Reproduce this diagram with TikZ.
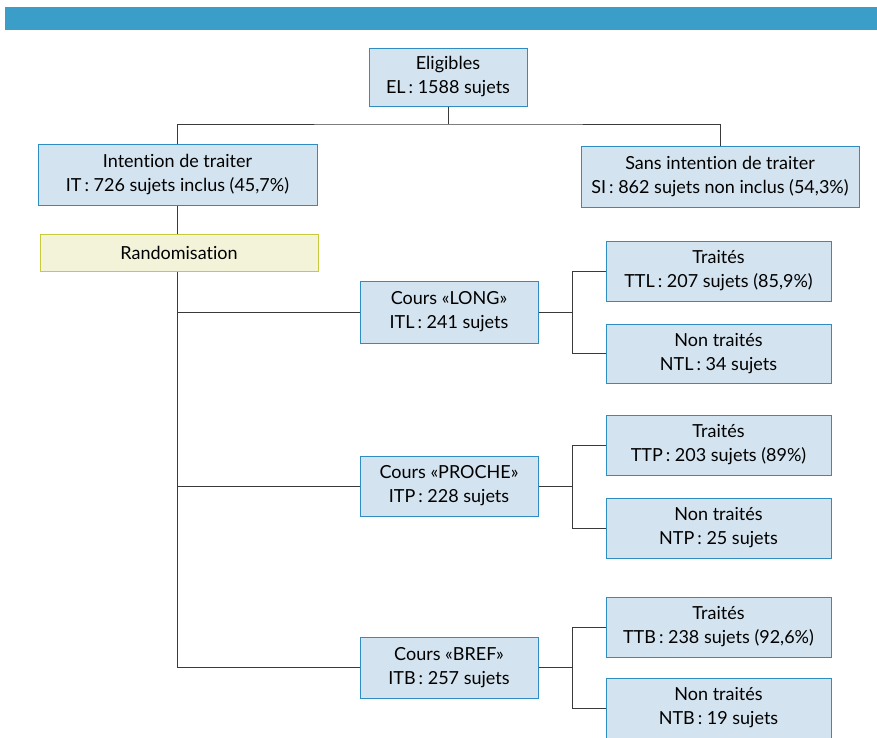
\documentclass[tikz,border=0pt]{standalone}
\usepackage{fontspec}
\setmainfont[Ligatures={NoCommon}]{Lato}
\usepackage{xcolor}
\usetikzlibrary{positioning, calc}

\definecolor{barblue}{HTML}{3A9EC8}
\definecolor{boxfill}{HTML}{D3E3EF}
\definecolor{boxline}{HTML}{2F8DC2}
\definecolor{randfill}{HTML}{F3F3DA}
\definecolor{randline}{HTML}{C5CB3C}
\definecolor{linkgray}{HTML}{3A3A3A}

\begin{document}
\begin{tikzpicture}[
  x=1pt, y=-1pt,
  group/.style={rectangle, minimum height=61pt, text centered, align=center, draw=boxline, line width=1pt, fill=boxfill, inner sep=1pt, font=\fontsize{18}{24}\selectfont},
  course/.style={group, minimum width=178pt},
  outcome/.style={group, minimum width=225pt, minimum height=60pt},
  randbox/.style={rectangle, minimum width=278pt, minimum height=37pt, text centered, draw=randline, line width=1pt, fill=randfill, font=\fontsize{18}{24}\selectfont},
  link/.style={draw=linkgray, line width=1pt}
]
\useasboundingbox (0,0) rectangle (877,737);
\fill[barblue] (5,7) rectangle (877,30);

\node (el) [group, minimum width=158pt, minimum height=58pt] at (448,77) {Eligibles\\EL\,: 1588 sujets};
\node (it) [group, minimum width=279pt] at (177.5,174.5) {Intention de traiter\\IT\,: 726 sujets inclus (45,7\%)};
\node (si) [group, minimum width=278pt] at (720,176.5) {Sans intention de traiter\\SI\,: 862 sujets non inclus (54,3\%)};
\node (rand) [randbox] at (179,252.5) {Randomisation};

\node (long) [course, minimum height=62pt] at (449,312) {Cours «LONG»\\ITL\,: 241 sujets};
\node (proche) [course, minimum height=60pt] at (449,486) {Cours «PROCHE»\\ITP\,: 228 sujets};
\node (bref) [course] at (449,667.5) {Cours «BREF»\\ITB\,: 257 sujets};

\node (ttl) [outcome] at (718.5,271) {Traités\\TTL\,: 207 sujets (85,9\%)};
\node (ntl) [outcome, minimum height=59pt] at (718.5,353.5) {Non traités\\NTL\,: 34 sujets};
\node (ttp) [outcome] at (718.5,445) {Traités\\TTP\,: 203 sujets (89\%)};
\node (ntp) [outcome] at (718.5,528) {Non traités\\NTP\,: 25 sujets};
\node (ttb) [outcome] at (718.5,627) {Traités\\TTB\,: 238 sujets (92,6\%)};
\node (ntb) [outcome] at (718.5,708) {Non traités\\NTB\,: 19 sujets};

% top split
\coordinate (split) at (448,124);
\draw [link] (el.south) -- (split);
\draw [link] (it.north) |- (split) -| (si.north);

% trunk
\draw [link] (it.south) -- (it.south |- rand.north);
\draw [link] (it.south |- rand.south) |- (bref.west);
\draw [link] (it.south |- long.west) -- (long.west);
\draw [link] (it.south |- proche.west) -- (proche.west);

% forks
\foreach \c/\t/\n in {long/ttl/ntl, proche/ttp/ntp, bref/ttb/ntb} {
  \coordinate (fork-\c) at ($(\c.east)+(34,0)$);
  \draw [link] (\c.east) -- (fork-\c);
  \draw [link] (\t.west) -| (fork-\c) |- (\n.west);
}
\end{tikzpicture}
\end{document}
